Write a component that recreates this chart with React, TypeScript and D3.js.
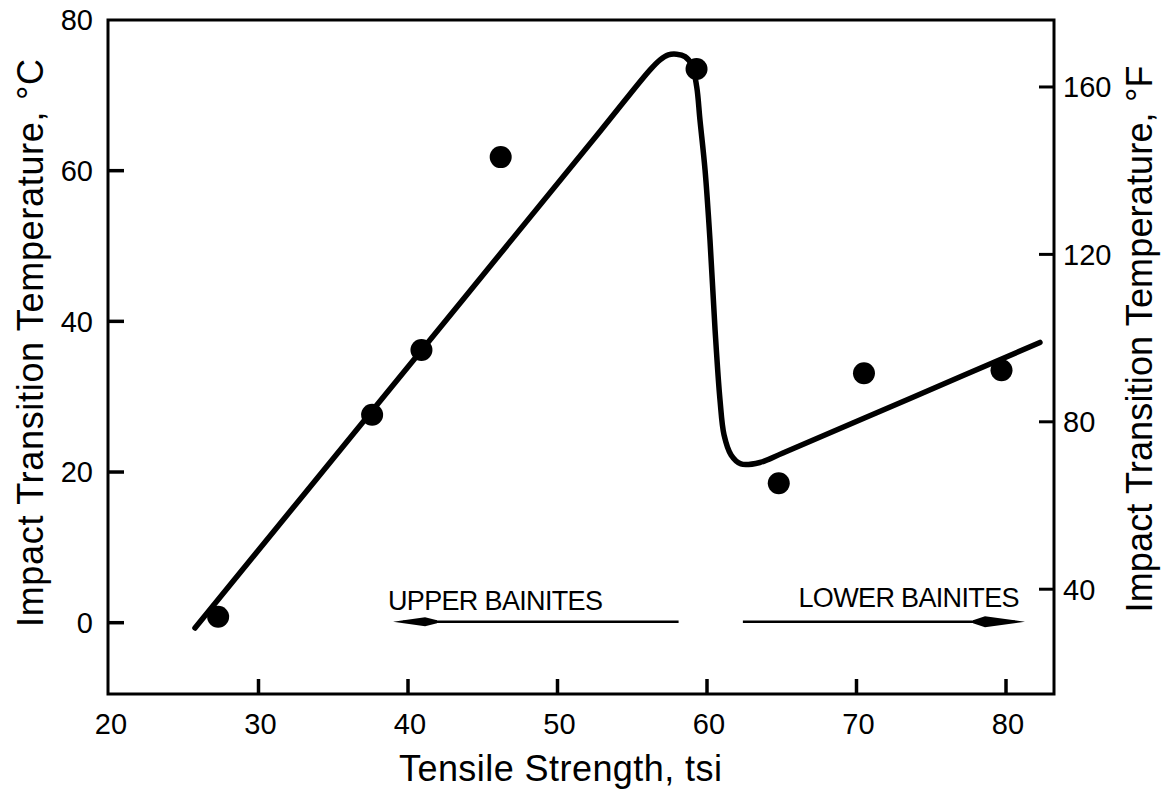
import React from "react";
import * as d3 from "d3";

// ---- data ----
const pointX = [27.3, 37.6, 40.9, 46.2, 59.3, 64.8, 70.5, 79.7];
const pointY = [0.8, 27.6, 36.2, 61.8, 73.5, 18.5, 33.1, 33.5];

const curveX = [25.75, 37.59, 52.84, 56.19, 56.86, 57.41, 57.97, 58.53, 58.98, 59.31, 59.53, 59.87, 60.2, 60.54, 60.87, 61.14, 61.61, 62.27, 63.54, 65.08, 73.58, 82.27];
const curveY = [-0.7, 28.1, 65.2, 73.38, 74.71, 75.37, 75.46, 75.14, 74.04, 71.15, 66.72, 60.08, 50.78, 38.87, 29.56, 24.92, 22.26, 21.07, 21.27, 22.53, 29.77, 37.2];

const xTicks = [20, 30, 40, 50, 60, 70, 80];
const yTicksC = [0, 20, 40, 60, 80];
const yTicksF = [40, 80, 120, 160];

const upperArrow = { from: 58.1, to: 39.0, y: 0, label: "UPPER BAINITES", labelX: 38.66 };
const lowerArrow = { from: 62.4, to: 81.27, y: 0, label: "LOWER BAINITES", labelX: 66.12 };

const xTitle = "Tensile Strength, tsi";
const yTitleLeft = "Impact Transition Temperature, °C";
const yTitleRight = "Impact Transition Temperature, °F";

// ---- layout ----
const W = 1169;
const H = 794;
const FONT = "'Liberation Sans', Arial, Helvetica, sans-serif";

const x = d3.scaleLinear().domain([20, 80]).range([109, 1006]);
const y = d3.scaleLinear().domain([0, 80]).range([622.7, 20]);
const yF = d3.scaleLinear().domain([32, 176]).range([622.7, 20]);

const frameL = 108;
const frameR = 1054;
const frameT = 20;
const frameB = 694;

export default function App() {
  const line = d3
    .line<number>()
    .x((_, i) => x(curveX[i]))
    .y((_, i) => y(curveY[i]))
    .curve(d3.curveCatmullRom.alpha(0.5));
  const pathD = line(curveX.map((_, i) => i)) || "";

  const uy = y(upperArrow.y) - 1;
  const ux0 = x(upperArrow.to);
  const ux1 = x(upperArrow.from);
  const ly = y(lowerArrow.y) - 1;
  const lx0 = x(lowerArrow.from);
  const lx1 = x(lowerArrow.to);

  return (
    <svg
      width={W}
      height={H}
      style={{ position: "absolute", left: 0, top: 0, background: "#fff" }}
      fontFamily={FONT}
    >
      <rect x={0} y={0} width={W} height={H} fill="#fff" />
      {/* frame */}
      <rect
        x={frameL}
        y={frameT}
        width={frameR - frameL}
        height={frameB - frameT}
        fill="none"
        stroke="#000"
        strokeWidth={3}
      />
      {/* bottom ticks */}
      {xTicks.map((t) => (
        <g key={"xt" + t}>
          {t > 20 && (
            <line x1={x(t)} x2={x(t)} y1={frameB} y2={frameB - 15} stroke="#000" strokeWidth={3.5} />
          )}
          <text x={x(t) + 2} y={734} fontSize={29} textAnchor="middle" fill="#000">
            {t}
          </text>
        </g>
      ))}
      {/* left ticks */}
      {yTicksC.map((t) => (
        <g key={"yc" + t}>
          {t < 80 && (
            <line x1={frameL} x2={frameL + 16} y1={y(t)} y2={y(t)} stroke="#000" strokeWidth={3.5} />
          )}
          <text x={93} y={y(t)} dy="0.36em" fontSize={29} textAnchor="end" fill="#000">
            {t}
          </text>
        </g>
      ))}
      {/* right ticks */}
      {yTicksF.map((t) => (
        <g key={"yf" + t}>
          <line x1={frameR} x2={frameR - 15} y1={yF(t)} y2={yF(t)} stroke="#000" strokeWidth={3} />
          <text x={1063} y={yF(t)} dy="0.36em" fontSize={29} textAnchor="start" fill="#000">
            {t}
          </text>
        </g>
      ))}

      {/* curve */}
      <path d={pathD} fill="none" stroke="#000" strokeWidth={5.5} strokeLinecap="round" strokeLinejoin="round" />

      {/* points */}
      {pointX.map((px, i) => (
        <circle key={"p" + i} cx={x(px)} cy={y(pointY[i])} r={11} fill="#000" />
      ))}

      {/* upper bainites arrow */}
      <line x1={ux0 + 10} x2={ux1} y1={uy} y2={uy} stroke="#000" strokeWidth={2.5} />
      <polygon
        points={`${ux0},${uy} ${ux0 + 32},${uy - 4.5} ${ux0 + 44},${uy - 1.5} ${ux0 + 44},${uy + 1.5} ${ux0 + 32},${uy + 4.5}`}
        fill="#000"
      />
      <text x={x(upperArrow.labelX)} y={610} fontSize={27} textLength={215} lengthAdjust="spacing" fill="#000">
        {upperArrow.label}
      </text>

      {/* lower bainites arrow */}
      <line x1={lx0} x2={lx1 - 10} y1={ly} y2={ly} stroke="#000" strokeWidth={2.5} />
      <polygon
        points={`${lx1},${ly} ${lx1 - 40},${ly - 5.5} ${lx1 - 52},${ly - 1.5} ${lx1 - 52},${ly + 1.5} ${lx1 - 40},${ly + 5.5}`}
        fill="#000"
      />
      <text x={x(lowerArrow.labelX)} y={607} fontSize={27} textLength={221} lengthAdjust="spacing" fill="#000">
        {lowerArrow.label}
      </text>

      {/* axis titles */}
      <text x={399} y={781} fontSize={36} textLength={323} lengthAdjust="spacing" fill="#000">
        {xTitle}
      </text>
      <text
        transform={`translate(43,343) rotate(-90)`}
        fontSize={36}
        textAnchor="middle"
        textLength={568}
        lengthAdjust="spacing"
        fill="#000"
      >
        {yTitleLeft}
      </text>
      <text
        transform={`translate(1152,339) rotate(-90)`}
        fontSize={36}
        textAnchor="middle"
        textLength={547}
        lengthAdjust="spacing"
        fill="#000"
      >
        {yTitleRight}
      </text>
    </svg>
  );
}
